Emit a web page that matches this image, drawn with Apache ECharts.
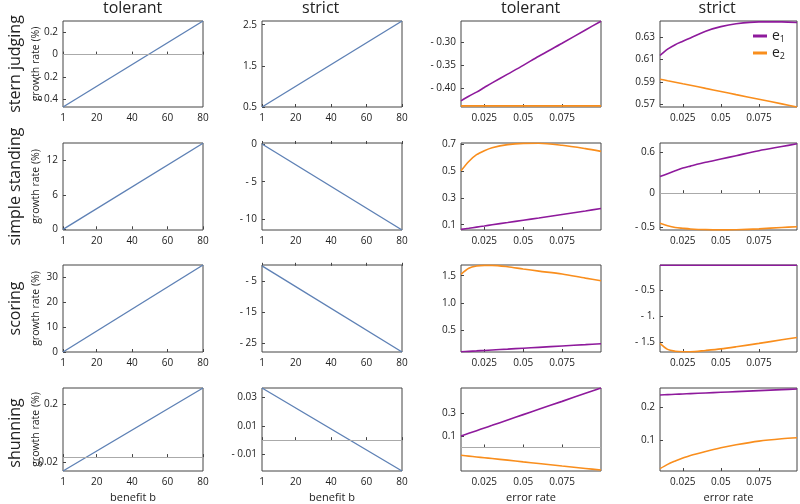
<!DOCTYPE html>
<html>
<head>
<meta charset="utf-8">
<script src="https://cdn.jsdelivr.net/npm/echarts@6/dist/echarts.min.js"></script>
<style>
  html, body { margin: 0; padding: 0; background: #fff; }
  #chart { width: 800px; height: 504px; }
</style>
</head>
<body>
<div id="chart"></div>
<script>
// x values
var benefit = [1, 80];
var errorRate = [0.01, 0.015, 0.02, 0.025, 0.03, 0.04, 0.05, 0.06, 0.075, 0.09, 0.1];

// growth rate (%) vs benefit b (straight lines, end points)
var sternTolerant = [-0.468, 0.30];
var sternStrict = [0.5, 2.59];
var simpleTolerant = [0, 15];
var simpleStrict = [0, -11.4];
var scoringTolerant = [0, 34.7];
var scoringStrict = [0, -27.8];
var shunTolerant = [-0.053, 0.263];
var shunStrict = [0.0365, -0.0216];

// growth rate (%) vs error rate, e1 and e2
var sternTolE1 = [-0.427, -0.417, -0.408, -0.398, -0.388, -0.369, -0.350, -0.330, -0.302, -0.273, -0.254];
var sternTolE2 = [-0.438, -0.438, -0.438, -0.438, -0.438, -0.438, -0.438, -0.438, -0.438, -0.438, -0.438];
var sternStrE1 = [0.6134, 0.619, 0.623, 0.626, 0.629, 0.635, 0.639, 0.6415, 0.6432, 0.6432, 0.6427];
var sternStrE2 = [0.5924, 0.591, 0.5897, 0.5883, 0.587, 0.5842, 0.5815, 0.5787, 0.5746, 0.5705, 0.5677];
var simpleTolE1 = [0.065, 0.073, 0.082, 0.090, 0.099, 0.116, 0.133, 0.150, 0.176, 0.202, 0.22];
var simpleTolE2 = [0.50, 0.57, 0.62, 0.65, 0.672, 0.695, 0.704, 0.705, 0.69, 0.665, 0.645];
var simpleStrE1 = [0.243, 0.285, 0.326, 0.366, 0.395, 0.45, 0.498, 0.547, 0.62, 0.68, 0.72];
var simpleStrE2 = [-0.44, -0.475, -0.5, -0.512, -0.522, -0.532, -0.535, -0.533, -0.52, -0.5, -0.49];
var scoringTolE1 = [0.10, 0.108, 0.116, 0.125, 0.133, 0.149, 0.166, 0.182, 0.207, 0.231, 0.248];
var scoringTolE2 = [1.525, 1.636, 1.678, 1.69, 1.69, 1.665, 1.623, 1.585, 1.531, 1.455, 1.408];
var scoringStrE1 = [-0.025, -0.025, -0.025, -0.025, -0.025, -0.025, -0.025, -0.025, -0.025, -0.025, -0.025];
var scoringStrE2 = [-1.525, -1.64, -1.675, -1.685, -1.686, -1.66, -1.63, -1.59, -1.525, -1.455, -1.41];
var shunTolE1 = [0.10, 0.123, 0.146, 0.169, 0.192, 0.239, 0.285, 0.331, 0.4, 0.47, 0.516];
var shunTolE2 = [-0.068, -0.075, -0.082, -0.089, -0.096, -0.11, -0.125, -0.139, -0.161, -0.182, -0.196];
var shunStrE1 = [0.237, 0.238, 0.239, 0.240, 0.241, 0.243, 0.245, 0.247, 0.250, 0.253, 0.255];
var shunStrE2 = [0.015, 0.028, 0.038, 0.047, 0.055, 0.067, 0.078, 0.087, 0.098, 0.105, 0.108];

// tick labels
var benefitTicks = [1, 20, 40, 60, 80];
var errorTicks = [0.025, 0.05, 0.075];
var errorTickText = ['0.025', '0.05', '0.075'];

var rowNames = ['stern judging', 'simple standing', 'scoring', 'shunning'];
var colNames = ['tolerant', 'strict', 'tolerant', 'strict'];

var BLUE = '#5E81B5', PURPLE = '#8E1A9C', ORANGE = '#F98E1D';
var FONT = 'Open Sans';

var colLeft = [63, 262, 461, 660], colW = [140, 140, 140, 137];
var rowTop = [21, 143, 265, 388], rowH = [86, 87, 87, 90];

// one entry per panel
var panels = [
  { r: 0, c: 0, lines: [sternTolerant], min: -0.468, max: 0.30, ticks: [-0.4, -0.2, 0, 0.2], text: ['- 0.4', '- 0.2', '0', '0.2'], zero: true },
  { r: 0, c: 1, lines: [sternStrict], min: 0.5, max: 2.59, ticks: [0.5, 1.5, 2.5], text: ['0.5', '1.5', '2.5'] },
  { r: 0, c: 2, lines: [sternTolE1, sternTolE2], min: -0.4404, max: -0.2535, ticks: [-0.40, -0.35, -0.30], text: ['- 0.40', '- 0.35', '- 0.30'] },
  { r: 0, c: 3, lines: [sternStrE1, sternStrE2], min: 0.5677, max: 0.644, ticks: [0.57, 0.59, 0.61, 0.63], text: ['0.57', '0.59', '0.61', '0.63'] },
  { r: 1, c: 0, lines: [simpleTolerant], min: -0.12, max: 15.04, ticks: [0, 6, 12], text: ['0', '6', '12'] },
  { r: 1, c: 1, lines: [simpleStrict], min: -11.4, max: 0.13, ticks: [-10, -5, 0], text: ['- 10', '- 5', '0'] },
  { r: 1, c: 2, lines: [simpleTolE1, simpleTolE2], min: 0.0604, max: 0.707, ticks: [0.1, 0.3, 0.5, 0.7], text: ['0.1', '0.3', '0.5', '0.7'] },
  { r: 1, c: 3, lines: [simpleStrE1, simpleStrE2], min: -0.537, max: 0.732, ticks: [-0.5, 0, 0.6], text: ['- 0.5', '0', '0.6'], zero: true },
  { r: 2, c: 0, lines: [scoringTolerant], min: 0, max: 34.7, ticks: [0, 10, 20, 30], text: ['0', '10', '20', '30'] },
  { r: 2, c: 1, lines: [scoringStrict], min: -27.8, max: 0.26, ticks: [-25, -15, -5], text: ['- 25', '- 15', '- 5'] },
  { r: 2, c: 2, lines: [scoringTolE1, scoringTolE2], min: 0.096, max: 1.697, ticks: [0.5, 1.0, 1.5], text: ['0.5', '1.0', '1.5'] },
  { r: 2, c: 3, lines: [scoringStrE1, scoringStrE2], min: -1.69, max: -0.019, ticks: [-1.5, -1, -0.5], text: ['- 1.5', '- 1.', '- 0.5'] },
  { r: 3, c: 0, lines: [shunTolerant], min: -0.053, max: 0.263, ticks: [-0.02, 0.2], text: ['- 0.02', '0.2'], zero: true },
  { r: 3, c: 1, lines: [shunStrict], min: -0.0216, max: 0.0365, ticks: [-0.01, 0.01, 0.03], text: ['- 0.01', '0.01', '0.03'], zero: true },
  { r: 3, c: 2, lines: [shunTolE1, shunTolE2], min: -0.204, max: 0.516, ticks: [0.1, 0.3], text: ['0.1', '0.3'], zero: true },
  { r: 3, c: 3, lines: [shunStrE1, shunStrE2], min: 0.008, max: 0.258, ticks: [0.1, 0.2], text: ['0.1', '0.2'] }
];

var grids = [], xAxes = [], yAxes = [], series = [];

function pickText(vals, texts) {
  return function (v) {
    for (var k = 0; k < vals.length; k++) {
      if (Math.abs(vals[k] - v) < 1e-9) return texts[k];
    }
    return '';
  };
}

panels.forEach(function (p, i) {
  var isBenefit = p.c < 2;
  var xs = isBenefit ? benefit : errorRate;
  grids.push({
    left: colLeft[p.c], top: rowTop[p.r], width: colW[p.c], height: rowH[p.r],
    show: true, borderColor: '#444', borderWidth: 1
  });
  xAxes.push({
    type: 'value', gridIndex: i,
    min: isBenefit ? 1 : 0.01, max: isBenefit ? 80 : 0.1,
    name: p.r === 3 ? (isBenefit ? 'benefit b' : 'error rate') : '',
    nameLocation: 'middle', nameGap: 21, nameMoveOverlap: false,
    nameTextStyle: { fontFamily: FONT, fontSize: 11, color: '#222' },
    axisLine: { show: false },
    splitLine: { show: false },
    axisTick: { show: true, inside: true, length: 3, lineStyle: { color: '#444' },
      customValues: isBenefit ? benefitTicks : errorTicks },
    axisLabel: { fontFamily: FONT, fontSize: 10, color: '#222', margin: 6,
      customValues: isBenefit ? benefitTicks : errorTicks,
      formatter: isBenefit ? pickText(benefitTicks, benefitTicks.map(String)) : pickText(errorTicks, errorTickText) }
  });
  yAxes.push({
    type: 'value', gridIndex: i, min: p.min, max: p.max,
    name: p.c === 0 ? 'growth rate (%)' : '',
    nameLocation: 'middle', nameRotate: 90, nameGap: 21, nameMoveOverlap: false,
    nameTextStyle: { fontFamily: FONT, fontSize: 10.5, color: '#222' },
    axisLine: { show: false },
    splitLine: { show: false },
    axisTick: { show: true, inside: true, length: 3, lineStyle: { color: '#444' }, customValues: p.ticks },
    axisLabel: { fontFamily: FONT, fontSize: 10, color: '#222', margin: 5,
      customValues: p.ticks, formatter: pickText(p.ticks, p.text) }
  });
  p.lines.forEach(function (ys, j) {
    var color = isBenefit ? BLUE : (j === 0 ? PURPLE : ORANGE);
    var s = {
      type: 'line', name: isBenefit ? 'b' + i : (j === 0 ? 'e1' : 'e2'),
      xAxisIndex: i, yAxisIndex: i,
      data: xs.map(function (x, k) { return [x, ys[k]]; }),
      showSymbol: false, symbol: 'none',
      smooth: isBenefit ? false : 0.3,
      lineStyle: { width: isBenefit ? 1.4 : 1.6, color: color },
      itemStyle: { color: color },
      silent: true, z: 3
    };
    if (p.zero && j === 0) {
      s.markLine = {
        silent: true, symbol: 'none', animation: false,
        label: { show: false },
        lineStyle: { color: '#aaa', width: 1, type: 'solid' },
        data: [{ yAxis: 0 }]
      };
    }
    series.push(s);
  });
});

var graphics = [];
colNames.forEach(function (t, c) {
  graphics.push({
    type: 'text', left: colLeft[c] + colW[c] / 2 - 30, top: 0,
    style: { text: t, width: 60, align: 'center', fontFamily: FONT, fontSize: 16, fill: '#222' }
  });
});
rowNames.forEach(function (t, r) {
  graphics.push({
    type: 'text', x: 15, y: rowTop[r] + rowH[r] / 2, rotation: Math.PI / 2,
    style: { text: t, align: 'center', verticalAlign: 'middle', fontFamily: FONT, fontSize: 16, fill: '#222' }
  });
});

var myChart = echarts.init(document.getElementById('chart'));
myChart.setOption({
  animation: false,
  backgroundColor: '#fff',
  grid: grids,
  xAxis: xAxes,
  yAxis: yAxes,
  series: series,
  graphic: graphics,
  legend: {
    data: ['e1', 'e2'],
    orient: 'vertical', left: 748, top: 24, itemGap: 2,
    icon: 'rect', itemWidth: 14, itemHeight: 3,
    selectedMode: false,
    formatter: function (name) { return 'e{s|' + name.slice(1) + '}'; },
    textStyle: { fontFamily: FONT, fontSize: 14, color: '#222',
      rich: { s: { fontFamily: FONT, fontSize: 9, color: '#222', padding: [7, 0, 0, 0] } } }
  }
});
</script>
</body>
</html>
